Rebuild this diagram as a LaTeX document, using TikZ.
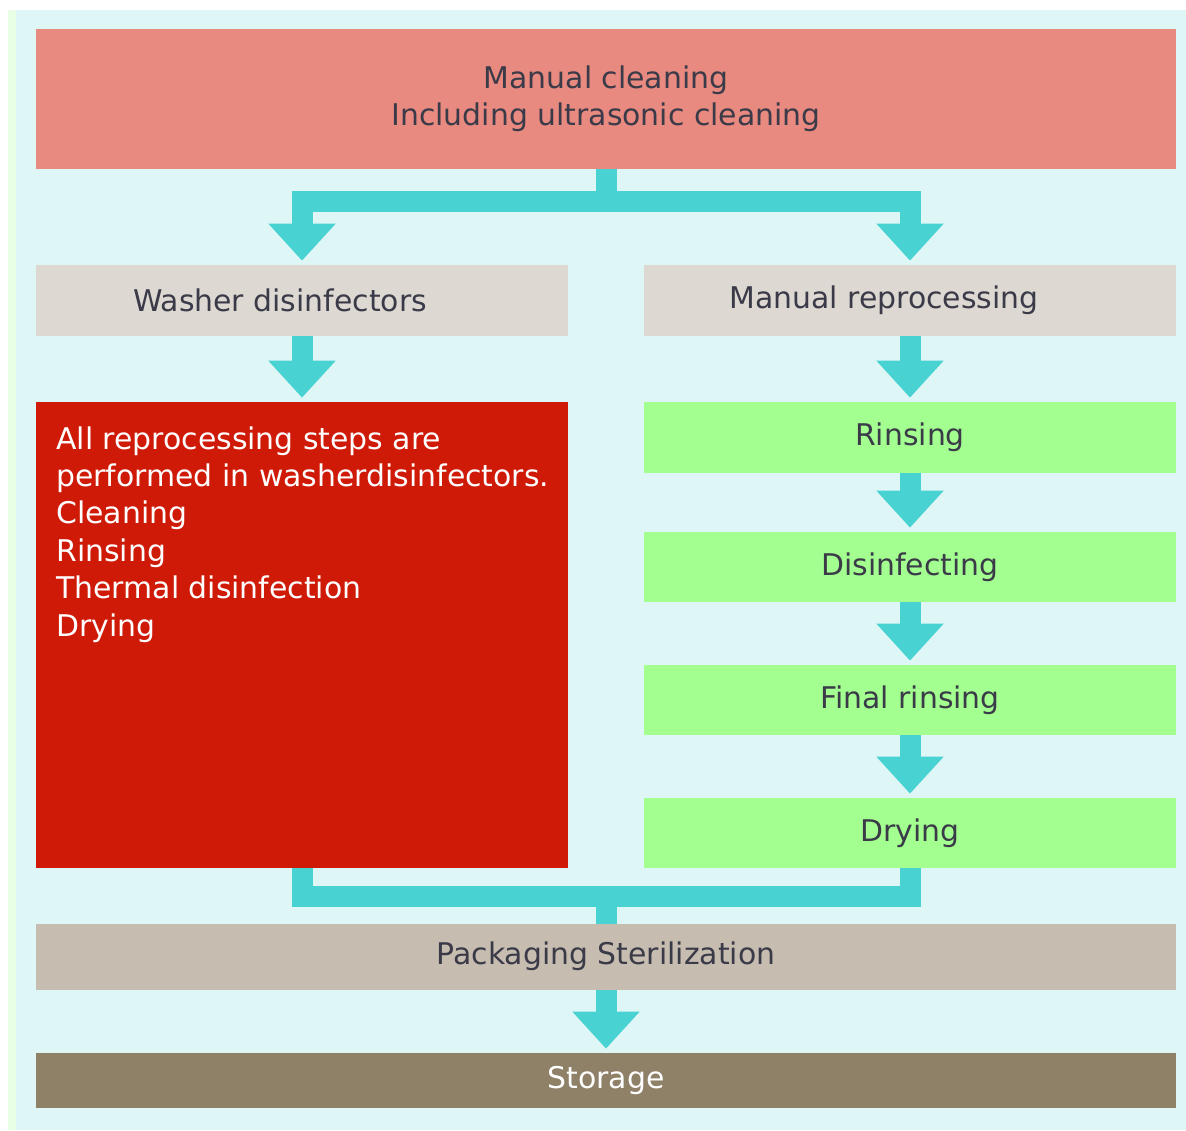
\documentclass[tikz,border=0pt]{standalone}
\usepackage{fontspec}
\setmainfont{DejaVu Sans}
\usetikzlibrary{arrows.meta}

\definecolor{bgcyan}{HTML}{DFF6F7}
\definecolor{bgstrip}{HTML}{E8FFE6}
\definecolor{flowcyan}{HTML}{48D2D2}
\definecolor{cleanpink}{HTML}{E88A80}
\definecolor{stagegray}{HTML}{DDD9D2}
\definecolor{autored}{HTML}{D01A08}
\definecolor{stepgreen}{HTML}{A3FF8F}
\definecolor{packtan}{HTML}{C6BDB0}
\definecolor{storebrown}{HTML}{8F8068}
\definecolor{labelgray}{HTML}{3A3A48}

\tikzset{
    block/.style={inner sep=0pt, text=labelgray, font=\fontsize{17}{21.3}\selectfont},
    widebox/.style={minimum width=22.8cm},
    halfbox/.style={minimum width=10.64cm},
    pipe/.style={draw=flowcyan, line width=0.42cm},
    flow/.style={pipe, -{Triangle[width=1.3cm, length=0.74cm]}, shorten >=0.08cm}
}

\begin{document}
\begin{tikzpicture}[x=0.02cm, y=-0.02cm]
    \useasboundingbox (0,0) rectangle (1186,1130);
    % Background panel
    \fill[white] (0,0) rectangle (1186,1130);
    \fill[bgstrip] (8,10) rectangle (1186,1130);
    \fill[bgcyan] (16,10) rectangle (1186,1130);

    % Create boxes
    \node[block, widebox, fill=cleanpink, minimum height=2.8cm, align=center] (clean) at (606,99) {Manual cleaning\\Including ultrasonic cleaning};
    \node[block, halfbox, fill=stagegray, minimum height=1.42cm] (washer) at (302,300.5) {Washer disinfectors\hspace*{0.88cm}};
    \node[block, halfbox, fill=stagegray, minimum height=1.42cm] (manual) at (910,300.5) {Manual reprocessing\hspace*{1.04cm}};
    \node[block, halfbox, fill=autored, minimum height=9.32cm] (auto) at (302,635) {};
    \node[block, text=white, align=left, anchor=north west] (autotext) at (56,426) {All reprocessing steps are\\performed in washerdisinfectors.\\Cleaning\\Rinsing\\Thermal disinfection\\Drying};
    \node[block, halfbox, fill=stepgreen, minimum height=1.42cm] (rinse) at (910,437.5) {Rinsing};
    \node[block, halfbox, fill=stepgreen, minimum height=1.4cm] (disinf) at (910,567) {Disinfecting};
    \node[block, halfbox, fill=stepgreen, minimum height=1.4cm] (final) at (910,700) {Final rinsing};
    \node[block, halfbox, fill=stepgreen, minimum height=1.4cm] (dry) at (910,833) {Drying};
    \node[block, widebox, fill=packtan, minimum height=1.32cm] (pack) at (606,957) {\raisebox{0.16cm}{Packaging Sterilization}};
    \node[block, widebox, fill=storebrown, minimum height=1.1cm, text=white] (store) at (606,1080.5) {Storage};

    % Draw connectors
    \coordinate (split) at (606,201);
    \coordinate (merge) at (606,896);
    \draw[pipe] (clean.south) -- (split);
    \draw[flow] (split) -| (washer.north);
    \draw[flow] (split) -| (manual.north);
    \draw[flow] (washer) -- (auto);
    \draw[flow] (manual) -- (rinse);
    \draw[flow] (rinse) -- (disinf);
    \draw[flow] (disinf) -- (final);
    \draw[flow] (final) -- (dry);
    \draw[pipe] (auto.south) |- (merge) -| (dry.south);
    \draw[pipe] (merge) -- (pack.north);
    \draw[flow] (pack) -- (store);
\end{tikzpicture}
\end{document}
